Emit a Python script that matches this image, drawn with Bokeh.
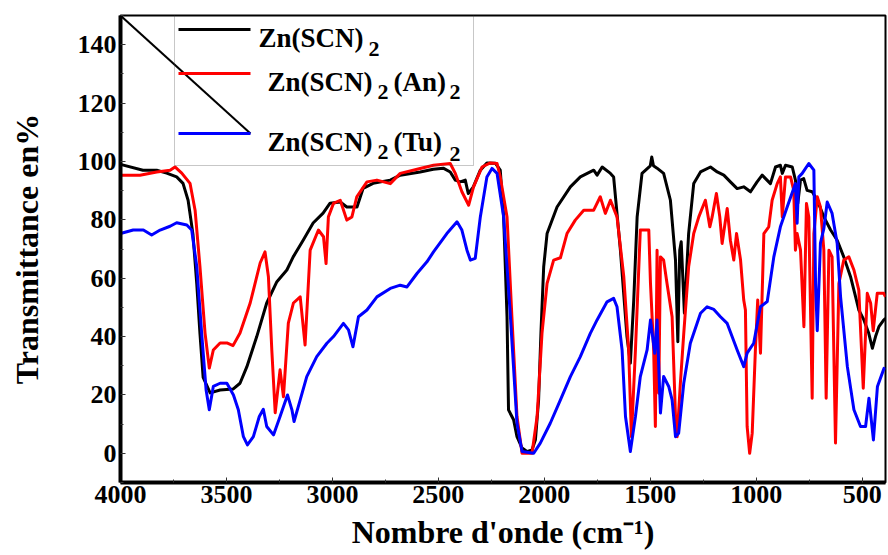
from bokeh.plotting import figure
from bokeh.models import Range1d, FixedTicker, Label, BoxAnnotation
from bokeh.embed import file_html
from bokeh.resources import INLINE

# ---------------- data ----------------
series_names = ["Zn(SCN)2", "Zn(SCN)2(An)2", "Zn(SCN)2(Tu)2"]
series_colors = ["black", "red", "blue"]

wn_zn = [
    4000, 3894, 3829, 3782, 3735, 3705, 3681, 3658, 3640, 3625,
    3610, 3577, 3530, 3469, 3436, 3404, 3357, 3310, 3262, 3215,
    3185, 3138, 3091, 3044, 3011, 2963, 2932, 2884, 2855, 2808,
    2727, 2680, 2586, 2524, 2477, 2444, 2420, 2397, 2373, 2359,
    2335, 2302, 2271, 2231, 2208, 2192, 2176, 2169, 2153, 2145,
    2129, 2105, 2082, 2058, 2042, 2027, 2016, 2003, 1987, 1940,
    1877, 1830, 1767, 1751, 1727, 1688, 1673, 1641, 1610, 1594,
    1578, 1562, 1539, 1500, 1493, 1485, 1468, 1437, 1405, 1381,
    1370, 1361, 1354, 1339, 1319, 1295, 1263, 1216, 1184, 1153,
    1122, 1090, 1059, 1027, 996, 972, 933, 909, 886, 877,
    862, 830, 815, 804, 791, 776, 760, 736, 712, 681,
    649, 618, 587, 555, 531, 516, 492, 469, 452, 437,
    421, 398, 390]
t_zn = [
    99, 97, 97, 96, 94.7, 92.5, 86.7, 75, 58, 41,
    26, 20.7, 21.7, 22, 24, 29.6, 40, 51.5, 58.8, 62.8,
    67.3, 73, 78.9, 82.3, 85.7, 86.1, 84.4, 84.4, 90.8, 92.5,
    93.6, 95.3, 96.4, 97.3, 97.7, 96.4, 93.6, 93, 93.6, 89,
    91.3, 97, 99.5, 99.4, 97, 81, 46.8, 14.9, 12.6, 11.5,
    5.7, 1.8, 0.6, 1.2, 4.6, 18.3, 41.1, 63.9, 75.3, 84.4,
    91.3, 94.7, 97, 95.3, 98.1, 95.9, 94.7, 69.6, 40, 30.9,
    52.5, 81, 95.9, 98.5, 101.5, 98.5, 97.7, 95.9, 86.7, 66.2,
    38.2, 69.6, 72.5, 48, 75.3, 92.4, 96.4, 98.1, 96.4, 95.3,
    93, 90.7, 91.3, 89.6, 93, 95.3, 92.4, 98.1, 98.7, 95.9,
    98.7, 98.1, 93.6, 85.6, 93.6, 94.1, 90.1, 89.6, 86.7, 81,
    76.5, 73, 67.3, 60.5, 53.6, 49.1, 45.7, 41.1, 36, 40,
    43.4, 45.7, 46.3]

wn_an = [
    4000, 3908, 3829, 3766, 3743, 3711, 3672, 3648, 3625, 3601,
    3581, 3562, 3530, 3498, 3469, 3436, 3388, 3341, 3318, 3302,
    3286, 3270, 3247, 3231, 3208, 3184, 3152, 3129, 3105, 3066,
    3042, 3030, 3019, 2995, 2963, 2932, 2908, 2885, 2837, 2790,
    2727, 2680, 2586, 2523, 2444, 2420, 2389, 2357, 2334, 2294,
    2255, 2223, 2208, 2176, 2153, 2129, 2105, 2058, 2034, 2011,
    1987, 1956, 1924, 1893, 1854, 1814, 1767, 1736, 1712, 1688,
    1657, 1625, 1602, 1589, 1570, 1547, 1507, 1499, 1484, 1476,
    1468, 1460, 1452, 1437, 1421, 1397, 1381, 1373, 1358, 1342,
    1319, 1295, 1271, 1240, 1219, 1208, 1188, 1172, 1161, 1137,
    1122, 1106, 1093, 1074, 1059, 1051, 1043, 1031, 1019, 1004,
    993, 980, 964, 941, 925, 901, 886, 877, 862, 838,
    823, 815, 807, 791, 775, 763, 752, 736, 728, 712,
    697, 681, 670, 657, 642, 626, 610, 587, 563, 539,
    516, 495, 476, 460, 448, 429, 398, 390]
t_an = [
    95.3, 95.3, 96.4, 97, 98.1, 96, 92.5, 83.3, 63.9, 41.2,
    29.2, 35.4, 37.8, 37.8, 36.9, 41.2, 51.5, 65.2, 69, 60.5,
    35.4, 13.9, 28.6, 19.4, 44.6, 51.5, 53.6, 37.1, 69.6, 76.5,
    74.2, 65, 81, 85.6, 86.7, 79.9, 81, 87.9, 93, 93.6,
    92.4, 95.9, 97.6, 98.7, 99.3, 95.9, 89.6, 85, 91.3, 98.1,
    99.5, 99.3, 94.7, 81, 46.8, 12.6, 0, 0, 12.6, 41.1,
    58.2, 66.2, 67, 75.3, 79.9, 83.3, 83.3, 87.9, 82.2, 86.7,
    81, 60.5, 35.4, 5.7, 35.4, 76.5, 76.5, 58.2, 35.4, 9.2,
    69.6, 20.6, 67.3, 66.2, 58.2, 46.8, 12.6, 5.7, 24, 41.1,
    63.9, 75.3, 81, 86.7, 77.6, 81, 89, 81, 71.9, 83.9,
    73, 66.2, 75.3, 66.2, 52.5, 49.1, 9.2, 0, 6.9, 35.4,
    52.5, 34.3, 75.3, 77.6, 86.7, 92.4, 94.7, 81, 94.7, 94.7,
    90.1, 69.6, 75.3, 69.6, 43.4, 85.6, 81, 18.9, 75.3, 87.9,
    84.4, 69.6, 18.9, 69.6, 67.3, 3.5, 58.2, 66.2, 67.3, 62.8,
    55.9, 22.3, 54.8, 51.4, 42, 54.8, 54.8, 53.6]

wn_tu = [
    4000, 3940, 3892, 3853, 3813, 3766, 3735, 3687, 3664, 3640,
    3617, 3596, 3581, 3562, 3530, 3498, 3467, 3444, 3420, 3401,
    3373, 3345, 3326, 3310, 3278, 3247, 3212, 3191, 3181, 3152,
    3121, 3074, 3026, 2995, 2948, 2924, 2903, 2877, 2837, 2790,
    2727, 2680, 2648, 2601, 2554, 2523, 2460, 2412, 2389, 2365,
    2349, 2326, 2302, 2271, 2247, 2223, 2192, 2160, 2129, 2105,
    2050, 2019, 1972, 1924, 1877, 1830, 1783, 1751, 1704, 1673,
    1657, 1633, 1617, 1594, 1570, 1547, 1515, 1499, 1479, 1468,
    1452, 1437, 1413, 1397, 1381, 1366, 1342, 1311, 1263, 1232,
    1200, 1169, 1137, 1090, 1059, 1043, 1012, 980, 948, 917,
    886, 854, 815, 807, 799, 783, 752, 728, 720, 712, 697, 681, 665,
    642, 618, 602, 570, 539, 508, 484, 468, 447, 428,
    397, 390]
t_tu = [
    75.3, 76.5, 76.5, 74.8, 76.5, 77.8, 79, 78.2, 76.5, 63.9,
    41.1, 21.7, 14.9, 22.9, 24, 24, 20, 14.9, 5.7, 2.9,
    5.7, 12.6, 15.1, 9.2, 6.3, 12.6, 20, 14.9, 10.9, 18.3,
    26.3, 33.1, 37.7, 40, 44.5, 42.3, 36.5, 46.8, 49.1, 53.6,
    56.5, 57.6, 57, 61.6, 65.6, 69, 75.3, 79.3, 76.5, 69.6,
    66.2, 66.8, 81, 94.7, 97.6, 95.9, 81, 46.8, 10.3, 0.6,
    0, 3.5, 10.3, 18.3, 26.3, 33.1, 41.1, 45.7, 51.9, 53.1,
    50.2, 35.4, 12.6, 0.6, 12.6, 26.3, 35.4, 45.7, 34.3, 45.7,
    13.8, 26.3, 22.9, 18.3, 5.7, 6.9, 24, 37.7, 48, 50.2,
    49.3, 46.8, 44.5, 35.4, 29.7, 34.3, 37.7, 50.2, 52, 67.3,
    77.6, 84.4, 92.4, 78.8, 94.7, 95.9, 99.3, 97, 58, 42, 72, 77, 86.1,
    82.2, 71.9, 53.6, 29.7, 14.9, 9.2, 9.2, 18.9, 4.6, 22.9,
    29.1, 28.6]

x_ticks = [4000, 3500, 3000, 2500, 2000, 1500, 1000, 500]
x_minor = [3750, 3250, 2750, 2250, 1750, 1250, 750]
y_ticks = [0, 20, 40, 60, 80, 100, 120, 140]
y_minor = [-10, 10, 30, 50, 70, 90, 110, 130, 150]

x_label = "Nombre d'onde (cm\u207b\u00b9)"
y_label = "Transmittance en%"

# ---------------- layout ----------------
X0, X1, Y0, Y1 = 4000, 390, -10, 150
FL, FR, FT, FB = 120, 885, 15, 482   # frame edges in pixels
FONT = "Liberation Serif"


def dx(px):
    return X0 + (px - FL) / (FR - FL) * (X1 - X0)


def dy(py):
    return Y1 - (py - FT) / (FB - FT) * (Y1 - Y0)


p = figure(width=888, height=555, output_backend="svg", toolbar_location=None,
           x_range=Range1d(X0, X1), y_range=Range1d(Y0, Y1),
           min_border_left=FL, min_border_right=888 - FR,
           min_border_top=FT, min_border_bottom=555 - FB)
p.background_fill_color = "white"
p.border_fill_color = "white"
p.grid.visible = False
p.outline_line_color = "black"
p.outline_line_width = 2

for ax in (p.xaxis[0], p.yaxis[0]):
    ax.axis_line_width = 4
    ax.axis_line_color = "black"
    ax.major_tick_in = 5
    ax.major_tick_out = 0
    ax.minor_tick_in = 3
    ax.minor_tick_out = 0
    ax.major_tick_line_color = "#333333"
    ax.minor_tick_line_color = "#333333"
    ax.major_label_text_font = FONT
    ax.major_label_text_font_style = "bold"
    ax.major_label_text_font_size = "26px"
    ax.major_label_text_color = "black"
    ax.axis_label_text_font = FONT
    ax.axis_label_text_font_style = "bold"
    ax.axis_label_text_font_size = "32px"
    ax.axis_label_text_color = "black"

p.xaxis[0].ticker = FixedTicker(ticks=x_ticks, minor_ticks=x_minor)
p.yaxis[0].ticker = FixedTicker(ticks=y_ticks, minor_ticks=y_minor)
p.xaxis[0].axis_label = x_label
p.yaxis[0].axis_label = y_label
p.xaxis[0].major_label_standoff = 3
p.yaxis[0].major_label_standoff = 4
p.xaxis[0].axis_label_standoff = 8
p.yaxis[0].axis_label_standoff = 30

# spectra
for wn, t, c in ((wn_zn, t_zn, series_colors[0]),
                 (wn_an, t_an, series_colors[1]),
                 (wn_tu, t_tu, series_colors[2])):
    assert len(wn) == len(t)
    p.line(wn, t, line_color=c, line_width=3, line_join="round")

# legend box
p.add_layout(BoxAnnotation(left=dx(174), right=dx(473), top=dy(13), bottom=dy(165),
                           fill_alpha=0, line_color="#444444", line_width=1))

# stray diagonal line in the reference
p.line([dx(FL), dx(250)], [dy(FT), dy(133)], line_color="black", line_width=2)

# legend swatches
for c, py in zip(series_colors, (29, 73, 133)):
    p.line([dx(178), dx(250)], [dy(py), dy(py)], line_color=c, line_width=3)

# legend texts (main part + subscripts)
legend_parts = [
    ("Zn(SCN)", 258, 37, 27), ("2", 368, 48, 22),
    ("Zn(SCN)", 267, 81, 27), ("2", 377, 91, 22), ("(An)", 393, 81, 27), ("2", 449, 91, 22),
    ("Zn(SCN)", 267, 141, 27), ("2", 377, 151, 22), ("(Tu)", 393, 141, 27), ("2", 449, 153, 22),
]
for txt, px, py, fs in legend_parts:
    p.add_layout(Label(x=dx(px), y=dy(py), text=txt, text_font=FONT,
                       text_font_style="bold", text_font_size=f"{fs}px",
                       text_align="left", text_baseline="alphabetic",
                       text_color="black"))

open("out.html", "w").write(file_html(p, INLINE))
